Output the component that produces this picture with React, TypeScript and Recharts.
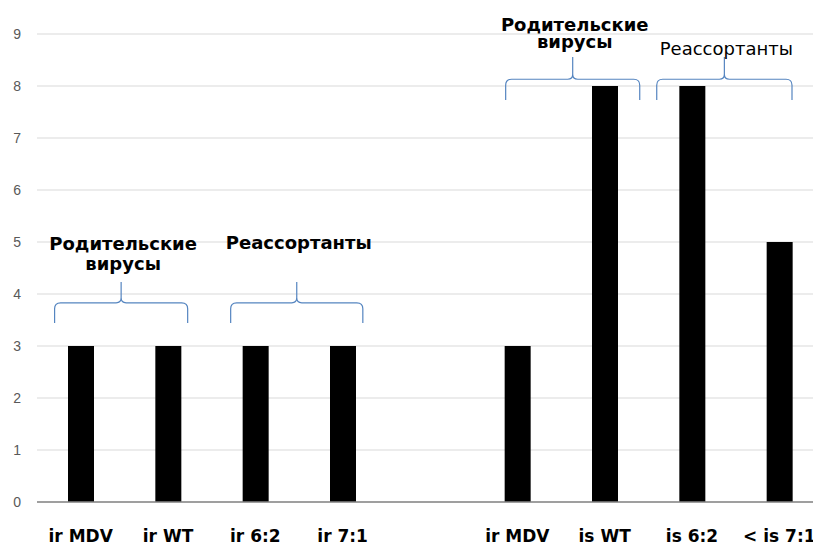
import React from 'react';
import { BarChart, Bar, XAxis, YAxis, CartesianGrid, ReferenceArea } from 'recharts';

const categoryKeys = ['c1', 'c2', 'c3', 'c4', 'c5', 'c6', 'c7', 'c8', 'c9'];
const categoryLabels = ['ir MDV', 'ir WT', 'ir 6:2', 'ir 7:1', '', 'ir MDV', 'is WT', 'is 6:2', '< is 7:1'];
const seriesValues: (number | null)[] = [3, 3, 3, 3, null, 3, 8, 8, 5];
const yTicks = [0, 1, 2, 3, 4, 5, 6, 7, 8, 9];

type Line = { text: string; at: number };
type Group = { from: string; to: string; tip: number; arm: number; end: number; lines: Line[]; bold: boolean };

const groups: Group[] = [
  { from: 'c1', to: 'c2', tip: 4.23, arm: 3.83, end: 3.44, lines: [{ text: 'Родительские', at: 4.85 }, { text: 'вирусы', at: 4.46 }], bold: true },
  { from: 'c3', to: 'c4', tip: 4.23, arm: 3.83, end: 3.44, lines: [{ text: 'Реассортанты', at: 4.87 }], bold: true },
  { from: 'c6', to: 'c7', tip: 8.56, arm: 8.13, end: 7.73, lines: [{ text: 'Родительские', at: 9.06 }, { text: 'вирусы', at: 8.73 }], bold: true },
  { from: 'c8', to: 'c9', tip: 8.56, arm: 8.13, end: 7.73, lines: [{ text: 'Реассортанты', at: 8.6 }], bold: false },
];

// layout: pixel insets of each brace from its category span
const braceInsets: [number, number][] = [[17.6, 24], [19, 23.5], [32, 8.6], [8.4, 31]];

const data = categoryKeys.map((k, i) => ({ key: k, label: categoryLabels[i], value: seriesValues[i] }));

function Brace(props: any) {
  const { x, y, width, height, group, inset } = props;
  const g: Group = group;
  const ppu = height / (g.tip - g.end);
  const xL = x + inset[0];
  const xR = x + width - inset[1];
  const mid = (xL + xR) / 2;
  const top = y;
  const armY = y + (g.tip - g.arm) * ppu;
  const bot = y + height;
  const r = 6;
  const t = 5;
  const d = [
    `M ${xL} ${bot}`,
    `L ${xL} ${armY + r}`,
    `Q ${xL} ${armY} ${xL + r} ${armY}`,
    `L ${mid - t} ${armY}`,
    `Q ${mid} ${armY} ${mid} ${armY - t}`,
    `L ${mid} ${top}`,
    `M ${mid} ${armY - t}`,
    `Q ${mid} ${armY} ${mid + t} ${armY}`,
    `L ${xR - r} ${armY}`,
    `Q ${xR} ${armY} ${xR} ${armY + r}`,
    `L ${xR} ${bot}`,
  ].join(' ');
  return (
    <g>
      <path d={d} fill="none" stroke="#5585c0" strokeWidth={1.2} />
      {g.lines.map((ln, i) => (
        <text
          key={i}
          x={mid + 2}
          y={y + (g.tip - ln.at) * ppu}
          textAnchor="middle"
          fontFamily="DejaVu Sans"
          fontWeight={g.bold ? 'bold' : 'normal'}
          fontSize={18}
          fill="#000"
        >
          {ln.text}
        </text>
      ))}
    </g>
  );
}

export default function App() {
  return (
    <div style={{ position: 'absolute', left: 0, top: 0, width: 813, height: 544, overflow: 'hidden', background: '#fff' }}>
      <BarChart width={830} height={552} data={data} margin={{ top: 34, right: 7, left: 0, bottom: 0 }}>
        <CartesianGrid vertical={false} stroke="#d9d9d9" />
        <XAxis
          dataKey="key"
          tickFormatter={(v: string) => categoryLabels[categoryKeys.indexOf(v)]}
          axisLine={{ stroke: '#868686', strokeWidth: 1.5 }}
          tickLine={false}
          tickMargin={22}
          height={50}
          interval={0}
          tick={{ fontFamily: 'DejaVu Sans', fontWeight: 'bold', fontSize: 17, fill: '#000' }}
        />
        <YAxis
          domain={[0, 9]}
          ticks={yTicks}
          width={37}
          axisLine={false}
          tickLine={false}
          tickMargin={10}
          tick={{ fontFamily: 'Liberation Sans', fontSize: 14, fill: '#595959' }}
        />
        <Bar dataKey="value" fill="#000" barSize={26} isAnimationActive={false} />
        {groups.map((g, i) => (
          <ReferenceArea
            key={i}
            x1={g.from}
            x2={g.to}
            y1={g.end}
            y2={g.tip}
            ifOverflow="visible"
            shape={(p: any) => <Brace {...p} group={g} inset={braceInsets[i]} />}
          />
        ))}
      </BarChart>
    </div>
  );
}
